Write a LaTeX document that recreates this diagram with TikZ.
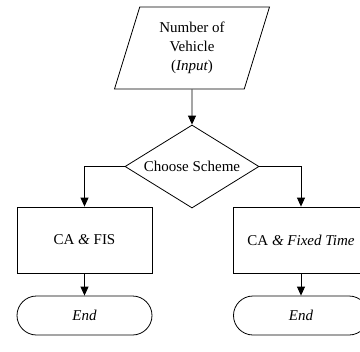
\documentclass[tikz,border=0pt]{standalone}
\usepackage{fontspec}
\setmainfont{Liberation Serif}
\usetikzlibrary{shapes.geometric,arrows.meta}

\tikzset{
  every node/.style={font=\fontsize{15bp}{19bp}\selectfont},
  shape line/.style={draw=black, line width=0.8bp},
  inputbox/.style={shape line, trapezium, trapezium left angle=64,
    trapezium right angle=116, trapezium stretches body,
    minimum width=155bp, minimum height=82bp, inner sep=0pt, align=center},
  choice/.style={shape line, diamond, aspect=1.6, minimum width=134bp,
    minimum height=83bp, inner sep=0pt},
  processbox/.style={shape line, rectangle, minimum width=135bp,
    minimum height=66bp, inner sep=0pt},
  terminal/.style={shape line, rectangle, rounded corners=19.5bp,
    minimum width=135bp, minimum height=39bp, inner sep=0pt},
  flow/.style={line width=0.8bp, -{Triangle[length=9bp,width=8bp]}}
}

\begin{document}
\begin{tikzpicture}[x=1bp, y=-1bp]
  \useasboundingbox (0,0) rectangle (360,352);

  \node[inputbox] (input) at (192,48) {Number of\\Vehicle\\(\textit{Input})};
  \node[choice] (scheme) at (192,166.5) {Choose Scheme};
  \node[processbox] (fis) at (84.5,240) {CA \textit{\&} FIS};
  \node[processbox] (fixed) at (301,240) {CA \textit{\& Fixed Time}};
  \node[terminal] (endL) at (84.5,315.5) {\textit{End}};
  \node[terminal] (endR) at (301,315.5) {\textit{End}};

  \draw[flow] (input.south) -- (scheme.north);
  \draw[flow] (scheme.west) -| (fis.north);
  \draw[flow] (scheme.east) -| (fixed.north);
  \draw[flow] (fis.south) -- (endL.north);
  \draw[flow] (fixed.south) -- (endR.north);
\end{tikzpicture}
\end{document}
